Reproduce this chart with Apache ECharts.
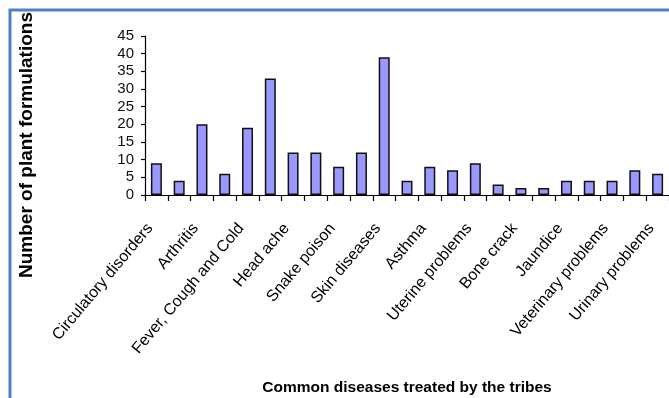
<!DOCTYPE html>
<html>
<head>
<meta charset="utf-8">
<script src="https://cdn.jsdelivr.net/npm/echarts@6/dist/echarts.min.js"></script>
<style>
  html, body { margin: 0; padding: 0; background: #fff; }
  #main { width: 669px; height: 398px; }
</style>
</head>
<body>
<div id="main"></div>
<script>
// every second category is unlabelled in the original figure
var categories = [
    'Circulatory disorders', '', 'Arthritis', '', 'Fever, Cough and Cold', '',
    'Head ache', '', 'Snake poison', '', 'Skin diseases', '', 'Asthma', '',
    'Uterine problems', '', 'Bone crack', '', 'Jaundice', '',
    'Veterinary problems', '', 'Urinary problems'
];
var formulations = [9, 4, 20, 6, 19, 33, 12, 12, 8, 12, 39, 4, 8, 7, 9, 3, 2, 2, 4, 4, 4, 7, 6];
var yTicks = { min: 0, max: 45, step: 5 };

var myChart = echarts.init(document.getElementById('main'));

var option = {
    animation: false,
    grid: { left: 145, top: 36, right: -5, height: 159 },
    graphic: [
        {
            // blue frame around the figure
            type: 'rect',
            shape: { x: 10, y: 10, width: 720, height: 420 },
            style: { fill: 'none', stroke: '#4f81bd', lineWidth: 3 }
        },
        {
            type: 'text',
            x: 27, y: 145,
            rotation: Math.PI / 2,
            style: {
                text: 'Number of plant formulations',
                font: 'bold 19px "Liberation Sans", Arial, sans-serif',
                fill: '#000',
                align: 'center',
                verticalAlign: 'middle'
            }
        }
    ],
    xAxis: {
        type: 'category',
        data: categories,
        name: 'Common diseases treated by the tribes',
        nameLocation: 'middle',
        nameGap: 185,
        nameTextStyle: {
            fontFamily: '"Liberation Sans", Arial, sans-serif',
            fontWeight: 'bold',
            fontSize: 15.5,
            color: '#000'
        },
        axisLine: { lineStyle: { color: '#000', width: 1.2 } },
        axisTick: { show: true, length: 6, lineStyle: { color: '#000', width: 1.2 } },
        axisLabel: {
            interval: 0,
            rotate: 50,
            margin: 23,
            padding: [0, 10, 0, 0],
            fontFamily: '"Liberation Sans", Arial, sans-serif',
            fontSize: 16,
            color: '#000'
        },
        splitLine: { show: false }
    },
    yAxis: {
        type: 'value',
        min: yTicks.min,
        max: yTicks.max,
        interval: yTicks.step,
        axisLine: { show: true, lineStyle: { color: '#000', width: 1.2 } },
        axisTick: { show: true, length: 4, lineStyle: { color: '#000', width: 1.2 } },
        axisLabel: {
            margin: 11,
            fontFamily: '"Liberation Sans", Arial, sans-serif',
            fontSize: 15,
            color: '#111'
        },
        splitLine: { show: false }
    },
    series: [
        {
            type: 'bar',
            data: formulations,
            barWidth: 11,
            itemStyle: { color: '#9999ff', borderColor: '#111', borderWidth: 1.5 }
        }
    ]
};

myChart.setOption(option);
</script>
</body>
</html>
